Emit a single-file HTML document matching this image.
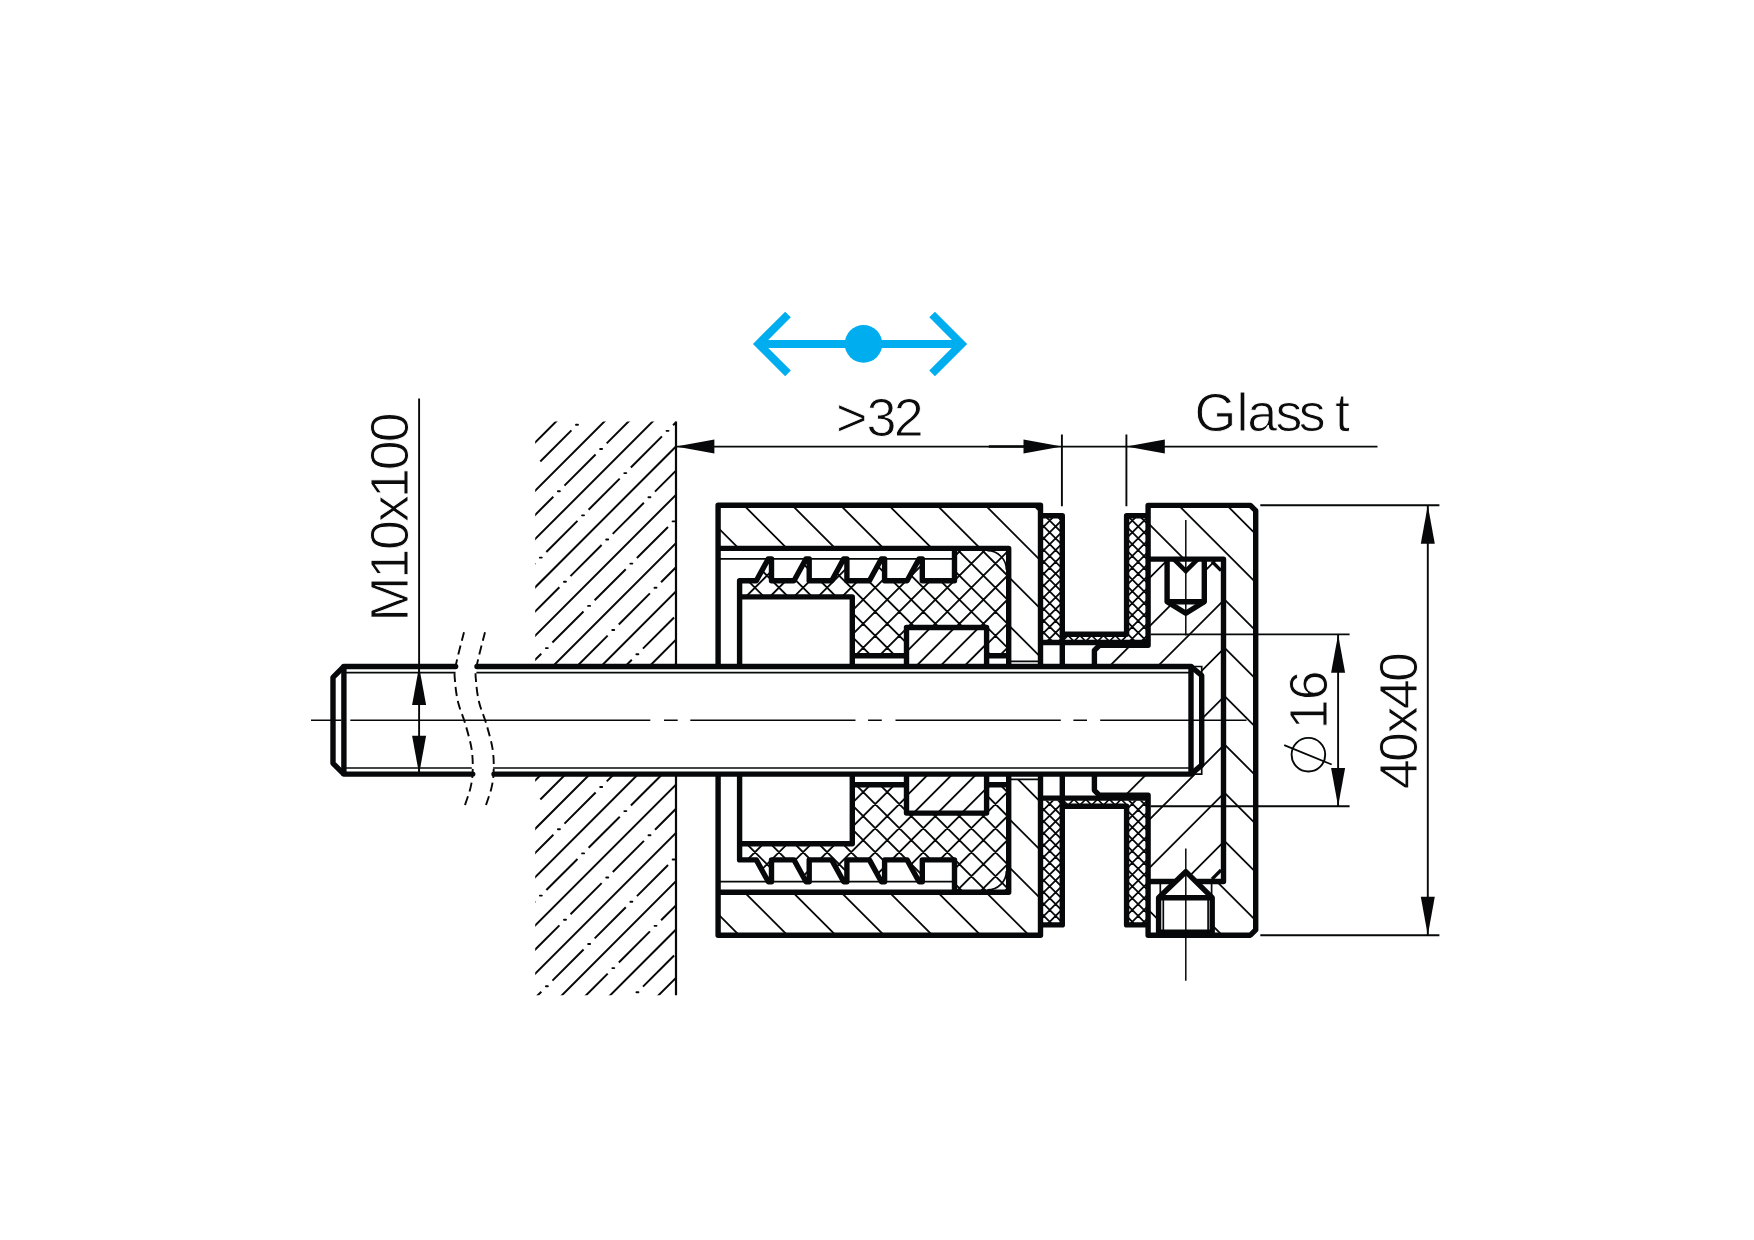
<!DOCTYPE html>
<html lang="en"><head><meta charset="utf-8"><title>Glass adapter drawing</title>
<style>
html,body{margin:0;padding:0;background:#fff;}
body{width:1754px;height:1240px;overflow:hidden;font-family:"Liberation Sans",sans-serif;}
svg{display:block;position:absolute;left:0;top:0;}
</style></head><body>
<svg width="1754" height="1240" viewBox="0 0 1754 1240">
<defs>
<clipPath id="c1"><path d="M535.20,421.50 L676.00,421.50 L676.00,666.50 L535.20,666.50 Z M535.20,774.10 L676.00,774.10 L676.00,995.30 L535.20,995.30 Z" clip-rule="evenodd"/></clipPath>
<clipPath id="c2"><path d="M718.10,505.30 L1040.50,505.30 L1040.50,661.30 L1008.70,661.30 L1008.70,548.40 L718.10,548.40 Z M718.10,935.30 L1040.50,935.30 L1040.50,779.30 L1008.70,779.30 L1008.70,892.20 L718.10,892.20 Z" clip-rule="evenodd"/></clipPath>
<clipPath id="c3"><path d="M739.60,580.70 L756.30,580.70 L768.30,558.90 L771.50,558.90 L771.50,580.70 L794.00,580.70 L806.00,558.90 L809.20,558.90 L809.20,580.70 L831.70,580.70 L843.70,558.90 L846.90,558.90 L846.90,580.70 L869.40,580.70 L881.40,558.90 L884.60,558.90 L884.60,580.70 L907.10,580.70 L919.10,558.90 L922.30,558.90 L922.30,580.70 L954.50,580.70 L954.50,548.40 L1008.70,548.40 L1008.70,655.80 L986.60,655.80 L986.60,627.50 L906.50,627.50 L906.50,655.80 L852.30,655.80 L852.30,596.90 L739.60,596.90 Z M739.60,859.90 L756.30,859.90 L768.30,881.70 L771.50,881.70 L771.50,859.90 L794.00,859.90 L806.00,881.70 L809.20,881.70 L809.20,859.90 L831.70,859.90 L843.70,881.70 L846.90,881.70 L846.90,859.90 L869.40,859.90 L881.40,881.70 L884.60,881.70 L884.60,859.90 L907.10,859.90 L919.10,881.70 L922.30,881.70 L922.30,859.90 L954.50,859.90 L954.50,892.20 L1008.70,892.20 L1008.70,784.80 L986.60,784.80 L986.60,813.10 L906.50,813.10 L906.50,784.80 L852.30,784.80 L852.30,843.70 L739.60,843.70 Z" clip-rule="evenodd"/></clipPath>
<clipPath id="c4"><path d="M906.50,627.50 L986.60,627.50 L986.60,666.50 L906.50,666.50 Z M906.50,813.10 L986.60,813.10 L986.60,774.10 L906.50,774.10 Z" clip-rule="evenodd"/></clipPath>
<clipPath id="c5"><path d="M1040.50,515.70 L1062.30,515.70 L1062.30,640.10 L1040.50,640.10 Z M1126.60,515.70 L1148.10,515.70 L1148.10,640.10 L1126.60,640.10 Z M1040.50,924.90 L1062.30,924.90 L1062.30,800.50 L1040.50,800.50 Z M1126.60,924.90 L1148.10,924.90 L1148.10,800.50 L1126.60,800.50 Z" clip-rule="evenodd"/></clipPath>
<clipPath id="c6"><path d="M1062.30,634.30 L1126.60,634.30 L1126.60,642.50 L1062.30,642.50 Z" clip-rule="evenodd"/></clipPath>
<clipPath id="c7"><path d="M1062.30,806.30 L1126.60,806.30 L1126.60,798.10 L1062.30,798.10 Z" clip-rule="evenodd"/></clipPath>
<clipPath id="c8"><path d="M1148.10,559.10 L1223.50,559.10 L1223.50,881.50 L1148.10,881.50 L1148.10,795.30 L1094.40,795.30 L1094.40,774.10 L1201.70,774.10 L1201.70,666.50 L1094.40,666.50 L1094.40,645.30 L1148.10,645.30 Z" clip-rule="evenodd"/></clipPath>
<clipPath id="c9"><path d="M1148.10,505.40 L1255.70,505.40 L1255.70,935.20 L1148.10,935.20 L1148.10,881.50 L1223.50,881.50 L1223.50,559.10 L1148.10,559.10 Z" clip-rule="evenodd"/></clipPath>
</defs>
<rect width="1754" height="1240" fill="#fff"/>
<g clip-path="url(#c1)"><path d="M533.20,347.80 L678.00,203.00 M533.20,396.10 L678.00,251.30 M533.20,444.40 L678.00,299.60 M533.20,492.70 L678.00,347.90 M533.20,541.00 L678.00,396.20 M533.20,589.30 L678.00,444.50 M533.20,637.60 L678.00,492.80 M533.20,685.90 L678.00,541.10 M533.20,734.20 L678.00,589.40 M533.20,782.50 L678.00,637.70 M533.20,830.80 L678.00,686.00 M533.20,879.10 L678.00,734.30 M533.20,927.40 L678.00,782.60 M533.20,975.70 L678.00,830.90 M533.20,1024.00 L678.00,879.20 M533.20,1072.30 L678.00,927.50 M533.20,1120.60 L678.00,975.80 M533.20,1168.90 L678.00,1024.10 M533.20,1217.20 L678.00,1072.40" stroke="#060809" stroke-width="2.0" fill="none"/>
<path d="M516.14,437.31 L547.26,406.19 M582.54,419.21 L613.66,388.09 M540.29,461.46 L571.41,430.34 M606.69,443.36 L637.81,412.24 M564.44,485.61 L595.56,454.49 M522.19,527.86 L553.31,496.74 M673.09,425.26 L704.21,394.14 M630.84,467.51 L661.96,436.39 M588.59,509.76 L619.71,478.64 M546.34,552.01 L577.46,520.89 M504.09,594.26 L535.21,563.14 M654.99,491.66 L686.11,460.54 M612.74,533.91 L643.86,502.79 M570.49,576.16 L601.61,545.04 M528.24,618.41 L559.36,587.29 M679.14,515.81 L710.26,484.69 M636.89,558.06 L668.01,526.94 M594.64,600.31 L625.76,569.19 M552.39,642.56 L583.51,611.44 M510.14,684.81 L541.26,653.69 M661.04,582.21 L692.16,551.09 M618.79,624.46 L649.91,593.34 M576.54,666.71 L607.66,635.59 M534.29,708.96 L565.41,677.84 M642.94,648.61 L674.06,617.49 M600.69,690.86 L631.81,659.74 M558.44,733.11 L589.56,701.99 M516.19,775.36 L547.31,744.24 M667.09,672.76 L698.21,641.64 M624.84,715.01 L655.96,683.89 M582.59,757.26 L613.71,726.14 M540.34,799.51 L571.46,768.39 M648.99,739.16 L680.11,708.04 M606.74,781.41 L637.86,750.29 M564.49,823.66 L595.61,792.54 M522.24,865.91 L553.36,834.79 M673.14,763.31 L704.26,732.19 M630.89,805.56 L662.01,774.44 M588.64,847.81 L619.76,816.69 M546.39,890.06 L577.51,858.94 M504.14,932.31 L535.26,901.19 M655.04,829.71 L686.16,798.59 M612.79,871.96 L643.91,840.84 M570.54,914.21 L601.66,883.09 M528.29,956.46 L559.41,925.34 M679.19,853.86 L710.31,822.74 M636.94,896.11 L668.06,864.99 M594.69,938.36 L625.81,907.24 M552.44,980.61 L583.56,949.49 M510.19,1022.86 L541.31,991.74 M661.09,920.26 L692.21,889.14 M618.84,962.51 L649.96,931.39 M576.59,1004.76 L607.71,973.64 M642.99,986.66 L674.11,955.54 M600.74,1028.91 L631.86,997.79 M667.14,1010.81 L698.26,979.69" stroke="#060809" stroke-width="2.0" fill="none"/>
<path d="M575.98,424.78 L577.98,424.78 M600.13,448.93 L602.13,448.93 M557.88,491.18 L559.88,491.18 M666.53,430.83 L668.53,430.83 M624.28,473.08 L626.28,473.08 M582.03,515.33 L584.03,515.33 M539.78,557.58 L541.78,557.58 M648.43,497.23 L650.43,497.23 M606.18,539.48 L608.18,539.48 M563.93,581.73 L565.93,581.73 M672.58,521.38 L674.58,521.38 M630.33,563.62 L632.33,563.62 M588.08,605.88 L590.08,605.88 M545.83,648.12 L547.83,648.12 M654.48,587.77 L656.48,587.77 M612.23,630.02 L614.23,630.02 M569.98,672.27 L571.98,672.27 M678.63,611.93 L680.63,611.93 M636.38,654.18 L638.38,654.18 M594.13,696.43 L596.13,696.43 M551.88,738.68 L553.88,738.68 M660.53,678.33 L662.53,678.33 M618.28,720.58 L620.28,720.58 M576.03,762.83 L578.03,762.83 M642.43,744.73 L644.43,744.73 M600.18,786.98 L602.18,786.98 M557.93,829.23 L559.93,829.23 M666.58,768.88 L668.58,768.88 M624.33,811.12 L626.33,811.12 M582.08,853.38 L584.08,853.38 M539.83,895.62 L541.83,895.62 M648.48,835.27 L650.48,835.27 M606.23,877.52 L608.23,877.52 M563.98,919.77 L565.98,919.77 M672.63,859.43 L674.63,859.43 M630.38,901.68 L632.38,901.68 M588.13,943.93 L590.13,943.93 M545.88,986.18 L547.88,986.18 M654.53,925.83 L656.53,925.83 M612.28,968.08 L614.28,968.08 M678.68,949.98 L680.68,949.98 M636.43,992.23 L638.43,992.23" stroke="#060809" stroke-width="1.9" fill="none" stroke-linecap="round"/></g>
<path d="M676.0,421.5 L676.0,666.5 M676.0,774.0999999999999 L676.0,995.3" stroke="#060809" stroke-width="2.2" fill="none" />
<g clip-path="url(#c2)"><path d="M716.10,1008.80 L1042.50,1335.20 M716.10,960.50 L1042.50,1286.90 M716.10,912.20 L1042.50,1238.60 M716.10,863.90 L1042.50,1190.30 M716.10,815.60 L1042.50,1142.00 M716.10,767.30 L1042.50,1093.70 M716.10,719.00 L1042.50,1045.40 M716.10,670.70 L1042.50,997.10 M716.10,622.40 L1042.50,948.80 M716.10,574.10 L1042.50,900.50 M716.10,525.80 L1042.50,852.20 M716.10,477.50 L1042.50,803.90 M716.10,429.20 L1042.50,755.60 M716.10,380.90 L1042.50,707.30 M716.10,332.60 L1042.50,659.00 M716.10,284.30 L1042.50,610.70 M716.10,236.00 L1042.50,562.40 M716.10,187.70 L1042.50,514.10 M716.10,139.40 L1042.50,465.80 M716.10,91.10 L1042.50,417.50" stroke="#060809" stroke-width="1.8" fill="none"/></g>
<g clip-path="url(#c3)"><path d="M737.60,508.80 L1010.70,235.70 M737.60,532.85 L1010.70,259.75 M737.60,556.90 L1010.70,283.80 M737.60,580.95 L1010.70,307.85 M737.60,605.00 L1010.70,331.90 M737.60,629.05 L1010.70,355.95 M737.60,653.10 L1010.70,380.00 M737.60,677.15 L1010.70,404.05 M737.60,701.20 L1010.70,428.10 M737.60,725.25 L1010.70,452.15 M737.60,749.30 L1010.70,476.20 M737.60,773.35 L1010.70,500.25 M737.60,797.40 L1010.70,524.30 M737.60,821.45 L1010.70,548.35 M737.60,845.50 L1010.70,572.40 M737.60,869.55 L1010.70,596.45 M737.60,893.60 L1010.70,620.50 M737.60,917.65 L1010.70,644.55 M737.60,941.70 L1010.70,668.60 M737.60,965.75 L1010.70,692.65 M737.60,989.80 L1010.70,716.70 M737.60,1013.85 L1010.70,740.75 M737.60,1037.90 L1010.70,764.80 M737.60,1061.95 L1010.70,788.85 M737.60,1086.00 L1010.70,812.90 M737.60,1110.05 L1010.70,836.95 M737.60,1134.10 L1010.70,861.00 M737.60,1158.15 L1010.70,885.05 M737.60,1182.20 L1010.70,909.10 M737.60,1206.25 L1010.70,933.15 M737.60,931.05 L1010.70,1204.15 M737.60,907.00 L1010.70,1180.10 M737.60,882.95 L1010.70,1156.05 M737.60,858.90 L1010.70,1132.00 M737.60,834.85 L1010.70,1107.95 M737.60,810.80 L1010.70,1083.90 M737.60,786.75 L1010.70,1059.85 M737.60,762.70 L1010.70,1035.80 M737.60,738.65 L1010.70,1011.75 M737.60,714.60 L1010.70,987.70 M737.60,690.55 L1010.70,963.65 M737.60,666.50 L1010.70,939.60 M737.60,642.45 L1010.70,915.55 M737.60,618.40 L1010.70,891.50 M737.60,594.35 L1010.70,867.45 M737.60,570.30 L1010.70,843.40 M737.60,546.25 L1010.70,819.35 M737.60,522.20 L1010.70,795.30 M737.60,498.15 L1010.70,771.25 M737.60,474.10 L1010.70,747.20 M737.60,450.05 L1010.70,723.15 M737.60,426.00 L1010.70,699.10 M737.60,401.95 L1010.70,675.05 M737.60,377.90 L1010.70,651.00 M737.60,353.85 L1010.70,626.95 M737.60,329.80 L1010.70,602.90 M737.60,305.75 L1010.70,578.85 M737.60,281.70 L1010.70,554.80 M737.60,257.65 L1010.70,530.75 M737.60,233.60 L1010.70,506.70" stroke="#060809" stroke-width="1.85" fill="none"/></g>
<g clip-path="url(#c4)"><path d="M904.50,581.60 L988.60,497.50 M904.50,605.65 L988.60,521.55 M904.50,629.70 L988.60,545.60 M904.50,653.75 L988.60,569.65 M904.50,677.80 L988.60,593.70 M904.50,701.85 L988.60,617.75 M904.50,725.90 L988.60,641.80 M904.50,749.95 L988.60,665.85 M904.50,774.00 L988.60,689.90 M904.50,798.05 L988.60,713.95 M904.50,822.10 L988.60,738.00 M904.50,846.15 L988.60,762.05 M904.50,870.20 L988.60,786.10 M904.50,894.25 L988.60,810.15 M904.50,918.30 L988.60,834.20 M904.50,942.35 L988.60,858.25" stroke="#060809" stroke-width="1.85" fill="none"/></g>
<g clip-path="url(#c5)"><path d="M1038.50,496.40 L1150.10,384.80 M1038.50,508.20 L1150.10,396.60 M1038.50,520.00 L1150.10,408.40 M1038.50,531.80 L1150.10,420.20 M1038.50,543.60 L1150.10,432.00 M1038.50,555.40 L1150.10,443.80 M1038.50,567.20 L1150.10,455.60 M1038.50,579.00 L1150.10,467.40 M1038.50,590.80 L1150.10,479.20 M1038.50,602.60 L1150.10,491.00 M1038.50,614.40 L1150.10,502.80 M1038.50,626.20 L1150.10,514.60 M1038.50,638.00 L1150.10,526.40 M1038.50,649.80 L1150.10,538.20 M1038.50,661.60 L1150.10,550.00 M1038.50,673.40 L1150.10,561.80 M1038.50,685.20 L1150.10,573.60 M1038.50,697.00 L1150.10,585.40 M1038.50,708.80 L1150.10,597.20 M1038.50,720.60 L1150.10,609.00 M1038.50,732.40 L1150.10,620.80 M1038.50,744.20 L1150.10,632.60 M1038.50,756.00 L1150.10,644.40 M1038.50,767.80 L1150.10,656.20 M1038.50,779.60 L1150.10,668.00 M1038.50,791.40 L1150.10,679.80 M1038.50,803.20 L1150.10,691.60 M1038.50,815.00 L1150.10,703.40 M1038.50,826.80 L1150.10,715.20 M1038.50,838.60 L1150.10,727.00 M1038.50,850.40 L1150.10,738.80 M1038.50,862.20 L1150.10,750.60 M1038.50,874.00 L1150.10,762.40 M1038.50,885.80 L1150.10,774.20 M1038.50,897.60 L1150.10,786.00 M1038.50,909.40 L1150.10,797.80 M1038.50,921.20 L1150.10,809.60 M1038.50,933.00 L1150.10,821.40 M1038.50,944.80 L1150.10,833.20 M1038.50,956.60 L1150.10,845.00 M1038.50,968.40 L1150.10,856.80 M1038.50,980.20 L1150.10,868.60 M1038.50,992.00 L1150.10,880.40 M1038.50,1003.80 L1150.10,892.20 M1038.50,1015.60 L1150.10,904.00 M1038.50,1027.40 L1150.10,915.80 M1038.50,1039.20 L1150.10,927.60 M1038.50,1051.00 L1150.10,939.40 M1038.50,946.00 L1150.10,1057.60 M1038.50,934.20 L1150.10,1045.80 M1038.50,922.40 L1150.10,1034.00 M1038.50,910.60 L1150.10,1022.20 M1038.50,898.80 L1150.10,1010.40 M1038.50,887.00 L1150.10,998.60 M1038.50,875.20 L1150.10,986.80 M1038.50,863.40 L1150.10,975.00 M1038.50,851.60 L1150.10,963.20 M1038.50,839.80 L1150.10,951.40 M1038.50,828.00 L1150.10,939.60 M1038.50,816.20 L1150.10,927.80 M1038.50,804.40 L1150.10,916.00 M1038.50,792.60 L1150.10,904.20 M1038.50,780.80 L1150.10,892.40 M1038.50,769.00 L1150.10,880.60 M1038.50,757.20 L1150.10,868.80 M1038.50,745.40 L1150.10,857.00 M1038.50,733.60 L1150.10,845.20 M1038.50,721.80 L1150.10,833.40 M1038.50,710.00 L1150.10,821.60 M1038.50,698.20 L1150.10,809.80 M1038.50,686.40 L1150.10,798.00 M1038.50,674.60 L1150.10,786.20 M1038.50,662.80 L1150.10,774.40 M1038.50,651.00 L1150.10,762.60 M1038.50,639.20 L1150.10,750.80 M1038.50,627.40 L1150.10,739.00 M1038.50,615.60 L1150.10,727.20 M1038.50,603.80 L1150.10,715.40 M1038.50,592.00 L1150.10,703.60 M1038.50,580.20 L1150.10,691.80 M1038.50,568.40 L1150.10,680.00 M1038.50,556.60 L1150.10,668.20 M1038.50,544.80 L1150.10,656.40 M1038.50,533.00 L1150.10,644.60 M1038.50,521.20 L1150.10,632.80 M1038.50,509.40 L1150.10,621.00 M1038.50,497.60 L1150.10,609.20 M1038.50,485.80 L1150.10,597.40 M1038.50,474.00 L1150.10,585.60 M1038.50,462.20 L1150.10,573.80 M1038.50,450.40 L1150.10,562.00 M1038.50,438.60 L1150.10,550.20 M1038.50,426.80 L1150.10,538.40 M1038.50,415.00 L1150.10,526.60 M1038.50,403.20 L1150.10,514.80 M1038.50,391.40 L1150.10,503.00" stroke="#060809" stroke-width="1.8" fill="none"/></g>
<g clip-path="url(#c6)"><path d="M1060.30,619.60 L1128.60,551.30 M1060.30,631.40 L1128.60,563.10 M1060.30,643.20 L1128.60,574.90 M1060.30,655.00 L1128.60,586.70 M1060.30,666.80 L1128.60,598.50 M1060.30,678.60 L1128.60,610.30 M1060.30,690.40 L1128.60,622.10 M1060.30,702.20 L1128.60,633.90 M1060.30,714.00 L1128.60,645.70 M1060.30,725.80 L1128.60,657.50 M1060.30,663.10 L1128.60,731.40 M1060.30,651.30 L1128.60,719.60 M1060.30,639.50 L1128.60,707.80 M1060.30,627.70 L1128.60,696.00 M1060.30,615.90 L1128.60,684.20 M1060.30,604.10 L1128.60,672.40 M1060.30,592.30 L1128.60,660.60 M1060.30,580.50 L1128.60,648.80 M1060.30,568.70 L1128.60,637.00 M1060.30,556.90 L1128.60,625.20 M1060.30,545.10 L1128.60,613.40" stroke="#060809" stroke-width="1.6" fill="none"/></g>
<g clip-path="url(#c7)"><path d="M1060.30,777.50 L1128.60,709.20 M1060.30,789.30 L1128.60,721.00 M1060.30,801.10 L1128.60,732.80 M1060.30,812.90 L1128.60,744.60 M1060.30,824.70 L1128.60,756.40 M1060.30,836.50 L1128.60,768.20 M1060.30,848.30 L1128.60,780.00 M1060.30,860.10 L1128.60,791.80 M1060.30,871.90 L1128.60,803.60 M1060.30,883.70 L1128.60,815.40 M1060.30,895.50 L1128.60,827.20 M1060.30,821.00 L1128.60,889.30 M1060.30,809.20 L1128.60,877.50 M1060.30,797.40 L1128.60,865.70 M1060.30,785.60 L1128.60,853.90 M1060.30,773.80 L1128.60,842.10 M1060.30,762.00 L1128.60,830.30 M1060.30,750.20 L1128.60,818.50 M1060.30,738.40 L1128.60,806.70 M1060.30,726.60 L1128.60,794.90 M1060.30,714.80 L1128.60,783.10" stroke="#060809" stroke-width="1.6" fill="none"/></g>
<g clip-path="url(#c8)"><path d="M1092.40,490.20 L1225.50,357.10 M1092.40,538.50 L1225.50,405.40 M1092.40,586.80 L1225.50,453.70 M1092.40,635.10 L1225.50,502.00 M1092.40,683.40 L1225.50,550.30 M1092.40,731.70 L1225.50,598.60 M1092.40,780.00 L1225.50,646.90 M1092.40,828.30 L1225.50,695.20 M1092.40,876.60 L1225.50,743.50 M1092.40,924.90 L1225.50,791.80 M1092.40,973.20 L1225.50,840.10 M1092.40,1021.50 L1225.50,888.40 M1092.40,1069.80 L1225.50,936.70" stroke="#060809" stroke-width="1.8" fill="none"/></g>
<g clip-path="url(#c9)"><path d="M1146.10,1004.10 L1257.70,1115.70 M1146.10,955.80 L1257.70,1067.40 M1146.10,907.50 L1257.70,1019.10 M1146.10,859.20 L1257.70,970.80 M1146.10,810.90 L1257.70,922.50 M1146.10,762.60 L1257.70,874.20 M1146.10,714.30 L1257.70,825.90 M1146.10,666.00 L1257.70,777.60 M1146.10,617.70 L1257.70,729.30 M1146.10,569.40 L1257.70,681.00 M1146.10,521.10 L1257.70,632.70 M1146.10,472.80 L1257.70,584.40 M1146.10,424.50 L1257.70,536.10 M1146.10,376.20 L1257.70,487.80 M1146.10,327.90 L1257.70,439.50" stroke="#060809" stroke-width="1.8" fill="none"/></g>
<path d="M1167.10,559.10 L1204.30,559.10 L1204.30,602.70 L1185.80,615.90 L1167.10,602.70 Z" fill="#fff"/>
<path d="M1158.60,935.20 L1158.60,897.70 L1185.80,869.20 L1212.20,897.70 L1212.20,935.20 Z" fill="#fff"/>
<path d="M343.9,672.6 L455.5,672.6 M476.4,672.6 L1191.0,672.6" stroke="#060809" stroke-width="1.7" fill="none" />
<path d="M343.9,767.9999999999999 L471.8,767.9999999999999 M493.1,767.9999999999999 L1191.0,767.9999999999999" stroke="#060809" stroke-width="1.7" fill="none" />
<path d="M1191.0,666.5 L1201.7,666.5 L1201.7,675.5 M1191.0,774.0999999999999 L1201.7,774.0999999999999 L1201.7,765.0999999999999" stroke="#060809" stroke-width="1.7" fill="none" />
<path d="M718.1,558.9 L954.5,558.9" stroke="#060809" stroke-width="1.7" fill="none" />
<path d="M1008.7,661.3 L1040.5,661.3" stroke="#060809" stroke-width="1.7" fill="none" />
<path d="M718.1,881.6999999999999 L954.5,881.6999999999999" stroke="#060809" stroke-width="1.7" fill="none" />
<path d="M1008.7,779.3 L1040.5,779.3" stroke="#060809" stroke-width="1.7" fill="none" />
<path d="M987.40,550.70 A19.0,19.0 0 0 1 1006.40,569.70" stroke="#060809" stroke-width="1.7" fill="none" />
<path d="M987.40,889.90 A19.0,19.0 0 0 0 1006.40,870.90" stroke="#060809" stroke-width="1.7" fill="none" />
<path d="M718.1,666.5 L718.1,505.3 L1040.5,505.3 L1040.5,666.5" stroke="#060809" stroke-width="5.4" fill="none" stroke-linejoin="round" stroke-linecap="butt"/>
<path d="M718.1,548.4 L1008.7,548.4 L1008.7,666.5" stroke="#060809" stroke-width="5.4" fill="none" stroke-linejoin="round" stroke-linecap="butt"/>
<path d="M739.60,666.50 L739.60,580.70 L756.30,580.70 L768.30,558.90 L771.50,558.90 L771.50,580.70 L794.00,580.70 L806.00,558.90 L809.20,558.90 L809.20,580.70 L831.70,580.70 L843.70,558.90 L846.90,558.90 L846.90,580.70 L869.40,580.70 L881.40,558.90 L884.60,558.90 L884.60,580.70 L907.10,580.70 L919.10,558.90 L922.30,558.90 L922.30,580.70 L954.50,580.70 L954.50,548.40" stroke="#060809" stroke-width="5.4" fill="none" stroke-linejoin="round" stroke-linecap="butt"/>
<path d="M739.6,596.9 L852.3,596.9 L852.3,666.5" stroke="#060809" stroke-width="5.4" fill="none" stroke-linejoin="round" stroke-linecap="butt"/>
<path d="M852.3,655.8 L906.5,655.8 M986.6,655.8 L1008.7,655.8" stroke="#060809" stroke-width="5.4" fill="none" stroke-linejoin="round" stroke-linecap="butt"/>
<path d="M906.5,666.5 L906.5,627.5 L986.6,627.5 L986.6,666.5" stroke="#060809" stroke-width="5.4" fill="none" stroke-linejoin="round" stroke-linecap="butt"/>
<path d="M1040.5,515.7 L1062.3,515.7 L1062.3,666.5" stroke="#060809" stroke-width="5.4" fill="none" stroke-linejoin="round" stroke-linecap="butt"/>
<path d="M1148.1,515.7 L1126.6,515.7 L1126.6,634.3 L1062.3,634.3" stroke="#060809" stroke-width="5.4" fill="none" stroke-linejoin="round" stroke-linecap="butt"/>
<path d="M1040.5,642.5 L1148.1,642.5" stroke="#060809" stroke-width="5.4" fill="none" stroke-linejoin="round" stroke-linecap="butt"/>
<path d="M718.1,774.0999999999999 L718.1,935.3 L1040.5,935.3 L1040.5,774.0999999999999" stroke="#060809" stroke-width="5.4" fill="none" stroke-linejoin="round" stroke-linecap="butt"/>
<path d="M718.1,892.1999999999999 L1008.7,892.1999999999999 L1008.7,774.0999999999999" stroke="#060809" stroke-width="5.4" fill="none" stroke-linejoin="round" stroke-linecap="butt"/>
<path d="M739.60,774.10 L739.60,859.90 L756.30,859.90 L768.30,881.70 L771.50,881.70 L771.50,859.90 L794.00,859.90 L806.00,881.70 L809.20,881.70 L809.20,859.90 L831.70,859.90 L843.70,881.70 L846.90,881.70 L846.90,859.90 L869.40,859.90 L881.40,881.70 L884.60,881.70 L884.60,859.90 L907.10,859.90 L919.10,881.70 L922.30,881.70 L922.30,859.90 L954.50,859.90 L954.50,892.20" stroke="#060809" stroke-width="5.4" fill="none" stroke-linejoin="round" stroke-linecap="butt"/>
<path d="M739.6,843.6999999999999 L852.3,843.6999999999999 L852.3,774.0999999999999" stroke="#060809" stroke-width="5.4" fill="none" stroke-linejoin="round" stroke-linecap="butt"/>
<path d="M852.3,784.8 L906.5,784.8 M986.6,784.8 L1008.7,784.8" stroke="#060809" stroke-width="5.4" fill="none" stroke-linejoin="round" stroke-linecap="butt"/>
<path d="M906.5,774.0999999999999 L906.5,813.0999999999999 L986.6,813.0999999999999 L986.6,774.0999999999999" stroke="#060809" stroke-width="5.4" fill="none" stroke-linejoin="round" stroke-linecap="butt"/>
<path d="M1040.5,924.8999999999999 L1062.3,924.8999999999999 L1062.3,774.0999999999999" stroke="#060809" stroke-width="5.4" fill="none" stroke-linejoin="round" stroke-linecap="butt"/>
<path d="M1148.1,924.8999999999999 L1126.6,924.8999999999999 L1126.6,806.3 L1062.3,806.3" stroke="#060809" stroke-width="5.4" fill="none" stroke-linejoin="round" stroke-linecap="butt"/>
<path d="M1040.5,798.0999999999999 L1148.1,798.0999999999999" stroke="#060809" stroke-width="5.4" fill="none" stroke-linejoin="round" stroke-linecap="butt"/>
<path d="M1094.4,666.5 L1094.4,650.3 L1099.4,645.3 L1148.1,645.3 L1148.1,505.4 L1250.4,505.4 L1255.7,510.7 L1255.7,929.8999999999999 L1250.4,935.1999999999999 L1148.1,935.1999999999999 L1148.1,795.3 L1099.4,795.3 L1094.4,790.3 L1094.4,774.0999999999999" stroke="#060809" stroke-width="5.4" fill="none" stroke-linejoin="round" stroke-linecap="butt"/>
<path d="M1148.1,559.1 L1223.5,559.1 L1223.5,881.4999999999999 L1197.0,881.4999999999999 M1174.6,881.4999999999999 L1148.1,881.4999999999999" stroke="#060809" stroke-width="5.4" fill="none" stroke-linejoin="round" stroke-linecap="butt"/>
<path d="M1212.0,561.5 L1221.1,570.6" stroke="#060809" stroke-width="3.4" fill="none" />
<path d="M1212.0,879.0999999999999 L1221.1,869.9999999999999" stroke="#060809" stroke-width="3.4" fill="none" />
<path d="M343.9,666.5 L455.6,666.5" stroke="#060809" stroke-width="5.4" fill="none" stroke-linejoin="round" stroke-linecap="round"/>
<path d="M477.0,666.5 L1191.0,666.5" stroke="#060809" stroke-width="5.4" fill="none" stroke-linejoin="round" stroke-linecap="round"/>
<path d="M343.9,774.0999999999999 L472.7,774.0999999999999" stroke="#060809" stroke-width="5.4" fill="none" stroke-linejoin="round" stroke-linecap="round"/>
<path d="M494.0,774.0999999999999 L1191.0,774.0999999999999" stroke="#060809" stroke-width="5.4" fill="none" stroke-linejoin="round" stroke-linecap="round"/>
<path d="M343.9,666.5 L333.0,677.3 L333.0,763.3 L343.9,774.0999999999999" stroke="#060809" stroke-width="5.4" fill="none" stroke-linejoin="round" stroke-linecap="butt"/>
<path d="M343.9,666.5 L343.9,774.0999999999999" stroke="#060809" stroke-width="5.4" fill="none" stroke-linejoin="round" stroke-linecap="butt"/>
<path d="M1191.0,666.5 L1201.7,675.5 L1201.7,765.0999999999999 L1191.0,774.0999999999999" stroke="#060809" stroke-width="5.4" fill="none" stroke-linejoin="round" stroke-linecap="butt"/>
<path d="M1191.0,666.5 L1191.0,774.0999999999999" stroke="#060809" stroke-width="5.4" fill="none" stroke-linejoin="round" stroke-linecap="butt"/>
<path d="M1167.1,559.1 L1167.1,601.7 L1185.8,613.3 L1204.3,601.7 L1204.3,559.1" stroke="#060809" stroke-width="5.4" fill="none" stroke-linejoin="round" stroke-linecap="butt"/>
<path d="M1167.1,601.7 L1204.3,601.7" stroke="#060809" stroke-width="5.4" fill="none" stroke-linejoin="round" stroke-linecap="butt"/>
<path d="M1173.8,559.1 L1185.8,571.1 L1197.8,559.1" stroke="#060809" stroke-width="4.6" fill="none" stroke-linejoin="miter"/>
<path d="M1158.6,935.1999999999999 L1158.6,897.7 L1185.8,871.7 L1212.2,897.7 L1212.2,935.1999999999999" stroke="#060809" stroke-width="5.4" fill="none" stroke-linejoin="round" stroke-linecap="butt"/>
<path d="M1158.6,897.7 L1212.2,897.7" stroke="#060809" stroke-width="5.4" fill="none" stroke-linejoin="round" stroke-linecap="butt"/>
<path d="M1158.6,932.3 L1212.2,932.3" stroke="#060809" stroke-width="5.4" fill="none" stroke-linejoin="round" stroke-linecap="butt"/>
<path d="M1163.3,897.7 L1163.3,935.1999999999999 M1208.1,897.7 L1208.1,935.1999999999999" stroke="#060809" stroke-width="1.7" fill="none" />
<path d="M1160.3,881.4999999999999 L1160.3,897.7 M1211.6,881.4999999999999 L1211.6,897.7" stroke="#060809" stroke-width="1.7" fill="none" />
<path d="M311,720.3 L341.3,720.3 M350.3,720.3 L650.3,720.3 M664,720.3 L677.7,720.3 M690.3,720.3 L855.5,720.3 M868.1,720.3 L881.8,720.3 M895.5,720.3 L1060.8,720.3 M1073.4,720.3 L1087,720.3 M1100.2,720.3 L1246.5,720.3" stroke="#060809" stroke-width="1.5" fill="none" />
<path d="M1185.8,519.9 L1185.8,635.5" stroke="#060809" stroke-width="1.5" fill="none" />
<path d="M1185.8,848.4 L1185.8,980.8" stroke="#060809" stroke-width="1.5" fill="none" />
<path d="M464.00,632.20 C462.58,637.97 457.00,658.67 455.50,666.80 C454.00,674.93 454.57,675.08 455.00,681.00 C455.43,686.92 456.40,695.20 458.10,702.30 C459.80,709.40 462.97,715.92 465.20,723.60 C467.43,731.28 470.25,740.72 471.50,748.40 C472.75,756.08 472.85,763.20 472.70,769.70 C472.55,776.20 472.05,781.05 470.60,787.40 C469.15,793.75 465.10,804.40 464.00,807.80" stroke="#060809" stroke-width="1.9" fill="none" stroke-dasharray="9 5"/>
<path d="M485.00,632.20 C483.58,637.97 478.00,658.67 476.50,666.80 C475.00,674.93 475.57,675.08 476.00,681.00 C476.43,686.92 477.40,695.20 479.10,702.30 C480.80,709.40 483.97,715.92 486.20,723.60 C488.43,731.28 491.25,740.72 492.50,748.40 C493.75,756.08 493.85,763.20 493.70,769.70 C493.55,776.20 493.05,781.05 491.60,787.40 C490.15,793.75 486.10,804.40 485.00,807.80" stroke="#060809" stroke-width="1.9" fill="none" stroke-dasharray="9 5"/>
<path d="M676.0,446.6 L1377.5,446.6" stroke="#060809" stroke-width="1.9" fill="none" />
<path d="M676.00,446.60 L714.40,439.60 L714.40,453.60 Z" fill="#060809"/>
<path d="M1061.90,446.60 L1023.50,453.60 L1023.50,439.60 Z" fill="#060809"/>
<path d="M1126.40,446.60 L1164.80,439.60 L1164.80,453.60 Z" fill="#060809"/>
<path d="M988.8,446.6 L1024,446.6" stroke="#060809" stroke-width="2.5" fill="none" />
<path d="M1061.9,434.6 L1061.9,506.3 M1126.4,434.6 L1126.4,506.3" stroke="#060809" stroke-width="1.9" fill="none" />
<path d="M419.1,398.5 L419.1,774.0999999999999" stroke="#060809" stroke-width="1.9" fill="none" />
<path d="M419.10,666.50 L426.10,704.90 L412.10,704.90 Z" fill="#060809"/>
<path d="M419.10,774.10 L412.10,735.70 L426.10,735.70 Z" fill="#060809"/>
<path d="M1150.7,634.4 L1349.6,634.4 M1150.7,806.3 L1349.6,806.3" stroke="#060809" stroke-width="1.9" fill="none" />
<path d="M1338.1,634.4 L1338.1,806.3" stroke="#060809" stroke-width="1.9" fill="none" />
<path d="M1338.10,634.40 L1345.10,672.80 L1331.10,672.80 Z" fill="#060809"/>
<path d="M1338.10,806.30 L1331.10,767.90 L1345.10,767.90 Z" fill="#060809"/>
<path d="M1260.3,505.3 L1439.4,505.3 M1260.3,935.2 L1439.4,935.2" stroke="#060809" stroke-width="1.9" fill="none" />
<path d="M1427.8,505.3 L1427.8,935.2" stroke="#060809" stroke-width="1.9" fill="none" />
<path d="M1427.80,505.30 L1434.80,543.70 L1420.80,543.70 Z" fill="#060809"/>
<path d="M1427.80,935.20 L1420.80,896.80 L1434.80,896.80 Z" fill="#060809"/>
<circle cx="1308.4" cy="754.7" r="16.8" stroke="#060809" stroke-width="1.9" fill="none"/>
<path d="M1284.2,745.2 L1331.7,764.5" stroke="#060809" stroke-width="1.8" fill="none" />
<text x="835.99 866.40 893.65" y="436.3" font-family="Liberation Sans, sans-serif" font-size="53.8" fill="#0c0c0c" stroke="#fff" stroke-width="0.9">&gt;32</text>
<text x="1194.52 1236.47 1247.34 1275.55 1298.80 1325.70 1335.10" y="431.2" font-family="Liberation Sans, sans-serif" font-size="53.8" fill="#0c0c0c" stroke="#fff" stroke-width="0.9">Glass t</text>
<text transform="translate(407.8 620) rotate(-90)" x="-1.57 41.64 69.90 98.02 121.94 149.80 177.80" y="0" font-family="Liberation Sans, sans-serif" font-size="53.8" fill="#0c0c0c" stroke="#fff" stroke-width="0.9">M10x100</text>
<text transform="translate(1326.9 721) rotate(-90)" x="-8.16 20.67" y="0" font-family="Liberation Sans, sans-serif" font-size="53.8" fill="#0c0c0c" stroke="#fff" stroke-width="0.9">16</text>
<text transform="translate(1416.7 787) rotate(-90)" x="-2.14 25.10 53.65 77.86 105.10" y="0" font-family="Liberation Sans, sans-serif" font-size="53.8" fill="#0c0c0c" stroke="#fff" stroke-width="0.9">40x40</text>
<path d="M758.6,343.9 L961.5,343.9" stroke="#00aeef" stroke-width="8" fill="none"/>
<path d="M788.0,314.5 L758.6,343.9 L788.0,373.3" stroke="#00aeef" stroke-width="8" fill="none" stroke-linejoin="miter"/>
<path d="M932.1,314.5 L961.5,343.9 L932.1,373.3" stroke="#00aeef" stroke-width="8" fill="none" stroke-linejoin="miter"/>
<circle cx="863.5" cy="343.9" r="18.8" fill="#00aeef"/>
</svg>
</body></html>
